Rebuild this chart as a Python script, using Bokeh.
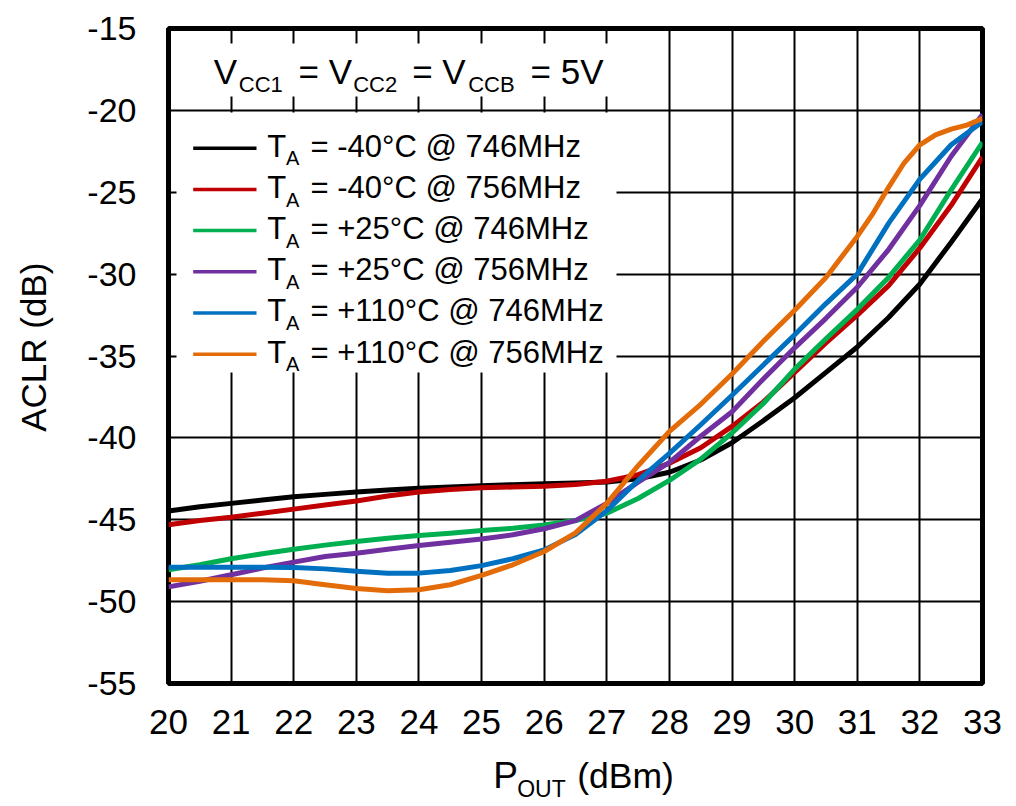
import math
from bokeh.plotting import figure
from bokeh.layouts import row, column
from bokeh.models import Label, BoxAnnotation, FixedTicker, Range1d, PrintfTickFormatter
from bokeh.embed import file_html
from bokeh.resources import INLINE

# ---------------- data ----------------
pout = [20, 20.5, 21, 21.5, 22, 22.5, 23, 23.5, 24, 24.5, 25, 25.5, 26, 26.5,
        27, 27.5, 28, 28.5, 29, 29.5, 30, 30.5, 31, 31.5, 32, 32.5, 33]

aclr_m40_746 = [-44.46, -44.2, -44.0, -43.8, -43.6, -43.45, -43.3, -43.18, -43.08, -43.0,
                -42.92, -42.86, -42.8, -42.75, -42.7, -42.5, -42.1, -41.35, -40.3, -38.95,
                -37.55, -36.0, -34.45, -32.65, -30.6, -28.05, -25.4]
aclr_m40_756 = [-45.3, -45.05, -44.85, -44.6, -44.35, -44.1, -43.85, -43.55, -43.3, -43.15,
                -43.05, -43.0, -42.95, -42.85, -42.65, -42.25, -41.55, -40.6, -39.3, -37.8,
                -36.0, -34.2, -32.5, -30.7, -28.4, -25.8, -22.85]
aclr_p25_746 = [-48.05, -47.75, -47.38, -47.08, -46.8, -46.55, -46.33, -46.13, -45.96, -45.82,
                -45.66, -45.52, -45.32, -45.05, -44.6, -43.7, -42.6, -41.3, -39.7, -37.9,
                -35.8, -33.95, -32.15, -30.2, -27.9, -24.85, -21.95]
aclr_p25_756 = [-49.1, -48.76, -48.36, -47.95, -47.59, -47.24, -47.04, -46.8, -46.57, -46.37,
                -46.17, -45.92, -45.55, -45.05, -44.0, -42.7, -41.5, -39.9, -38.4, -36.4,
                -34.5, -32.7, -30.8, -28.5, -25.8, -22.8, -20.25]
aclr_p110_746 = [-47.9, -47.9, -47.9, -47.9, -47.92, -48.0, -48.15, -48.26, -48.26, -48.1,
                 -47.8, -47.38, -46.84, -45.9, -44.45, -42.6, -40.95, -39.2, -37.4, -35.55,
                 -33.7, -31.8, -30.0, -26.9, -24.2, -22.1, -20.7]
pout_p110_756 = [20, 20.5, 21, 21.5, 22, 22.5, 23, 23.5, 24, 24.5, 25, 25.5, 26, 26.5,
                 27, 27.5, 28, 28.5, 29, 29.5, 30, 30.5, 31, 31.25, 31.5, 31.75, 32,
                 32.25, 32.5, 32.75, 33]
aclr_p110_756 = [-48.66, -48.66, -48.66, -48.66, -48.72, -48.97, -49.2, -49.33, -49.27, -48.97,
                 -48.4, -47.75, -46.94, -45.8, -44.0, -41.7, -39.6, -37.95, -36.1, -34.1,
                 -32.2, -30.2, -27.7, -26.3, -24.7, -23.2, -22.1,
                 -21.5, -21.15, -20.9, -20.5]

series_x = [pout, pout, pout, pout, pout, pout_p110_756]
series = [aclr_m40_746, aclr_m40_756, aclr_p25_746, aclr_p25_756, aclr_p110_746, aclr_p110_756]
series_labels = ["= -40°C @ 746MHz", "= -40°C @ 756MHz", "= +25°C @ 746MHz",
                 "= +25°C @ 756MHz", "= +110°C @ 746MHz", "= +110°C @ 756MHz"]
colors = ["#000000", "#C00000", "#00B050", "#7030A0", "#0070C0", "#E36C09"]

x_ticks = list(range(20, 34))
y_ticks = list(range(-55, -14, 5))

# ---------------- layout (picture pixels) ----------------
LEFT_W = 60                 # strip holding the y-axis title
MAIN_W, MAIN_H = 948, 751
TOTAL_H = 804
BOT_H = TOTAL_H - MAIN_H    # strip holding the x-axis title
FL, FT, FW, FH = 168, 28, 814, 655  # frame geometry in picture pixels
XMIN, XMAX, YMIN, YMAX = 20, 33, -55, -15
FONT = "Liberation Sans"
BASE_FIX = 0.355            # rendered baseline sits this many em below the anchor
BL = FL - LEFT_W            # left border of the main figure
BR = MAIN_W - BL - FW       # right border of the main figure


def px2x(px):
    return XMIN + (px - FL) * (XMAX - XMIN) / FW


def py2y(py):
    return YMAX - (py - FT) * (YMAX - YMIN) / FH


p = figure(width=MAIN_W, height=MAIN_H, x_range=Range1d(XMIN, XMAX), y_range=Range1d(YMIN, YMAX),
           output_backend="svg", toolbar_location=None, title=None,
           min_border_left=BL, min_border_top=FT, min_border_right=BR,
           min_border_bottom=MAIN_H - FT - FH)
p.background_fill_color = "white"
p.border_fill_color = "white"
p.outline_line_color = "black"
p.outline_line_width = 5

p.xaxis.ticker = FixedTicker(ticks=x_ticks)
p.yaxis.ticker = FixedTicker(ticks=y_ticks)
p.xgrid.ticker = FixedTicker(ticks=x_ticks)
p.ygrid.ticker = FixedTicker(ticks=y_ticks)
p.xaxis.formatter = PrintfTickFormatter(format="%d")
p.yaxis.formatter = PrintfTickFormatter(format="%d")
for g in (p.xgrid, p.ygrid):
    g.grid_line_color = "black"
    g.grid_line_width = 2
    g.grid_line_alpha = 1.0

for ax in (p.xaxis, p.yaxis):
    ax.axis_line_color = None
    ax.major_tick_line_color = None
    ax.minor_tick_line_color = None
    ax.major_tick_out = 0
    ax.major_tick_in = 0
    ax.major_label_text_font = FONT
    ax.major_label_text_color = "black"
p.yaxis.major_label_text_font_size = "34px"
p.xaxis.major_label_text_font_size = "35px"
p.yaxis.major_label_standoff = 32
p.xaxis.major_label_standoff = 26

# white boxes behind title and legend
p.add_layout(BoxAnnotation(left=px2x(175), right=px2x(614), top=py2y(43), bottom=py2y(96),
                           fill_color="white", fill_alpha=1.0, line_color=None))
p.add_layout(BoxAnnotation(left=px2x(176), right=px2x(616), top=py2y(112), bottom=py2y(372),
                           fill_color="white", fill_alpha=1.0, line_color=None))

# curves
for xs, ys, c in zip(series_x, series, colors):
    p.line(xs, ys, line_color=c, line_width=5, line_join="round")


def add_text(fig, txt, px, py, size, fx, fy, angle=0.0, align="left"):
    """Place text whose baseline starts at picture pixel (px, py)."""
    d = BASE_FIX * size
    if angle:
        px -= d
    else:
        py -= d
    fig.add_layout(Label(x=fx(px), y=fy(py), text=txt, text_font=FONT,
                         text_font_size=f"{size}px", text_color="black",
                         text_baseline="alphabetic", text_align=align, angle=angle))


# title: VCC1 = VCC2 = VCCB = 5V
for txt, px, sub in [("V", 213.3, False), ("CC1", 238.3, True), ("= V", 298, False),
                     ("CC2", 352.7, True), ("= V", 411.7, False), ("CCB", 467.7, True),
                     ("= 5V", 530, False)]:
    add_text(p, txt, px, 92.3 if sub else 83.3, 22 if sub else 35, px2x, py2y)

# legend
for k, (lab, c) in enumerate(zip(series_labels, colors)):
    yl = py2y(147.7 + 41.2 * k)
    p.segment(x0=[px2x(192.7)], y0=[yl], x1=[px2x(256)], y1=[yl],
              line_color=c, line_width=3.5, level="overlay")
    base = 156.7 + 41.2 * k
    add_text(p, "T", 266.7, base, 31, px2x, py2y)
    add_text(p, "A", 285.5, base + 8.3, 20, px2x, py2y)
    add_text(p, lab, 310, base, 31, px2x, py2y)


def strip(w, h, xr, yr, bl=0, br=0):
    f = figure(width=w, height=h, x_range=Range1d(*xr), y_range=Range1d(*yr),
               output_backend="svg", toolbar_location=None, title=None,
               x_axis_type=None, y_axis_type=None,
               min_border_left=bl, min_border_right=br, min_border_top=0, min_border_bottom=0)
    f.outline_line_color = None
    f.background_fill_color = "white"
    f.border_fill_color = "white"
    f.grid.visible = False
    return f


ident = lambda v: v

# y-axis title strip (coordinates = picture pixels)
left = strip(LEFT_W, TOTAL_H, (0, LEFT_W), (TOTAL_H, 0))
add_text(left, "ACLR (dB)", 45, 346.7, 35, ident, ident, angle=math.pi / 2, align="center")

# x-axis title strip: frame lined up with the main frame, coordinates = picture pixels
bottom = strip(MAIN_W, BOT_H, (FL, FL + FW), (TOTAL_H, MAIN_H), bl=BL, br=BR)
add_text(bottom, "P", 492.7, 788.3, 37, ident, ident)
add_text(bottom, "OUT", 516.7, 797, 23, ident, ident)
add_text(bottom, "(dBm)", 576.7, 788.3, 35.5, ident, ident)

layout = row(left, column(p, bottom))
open("out.html", "w").write(file_html(layout, INLINE))
